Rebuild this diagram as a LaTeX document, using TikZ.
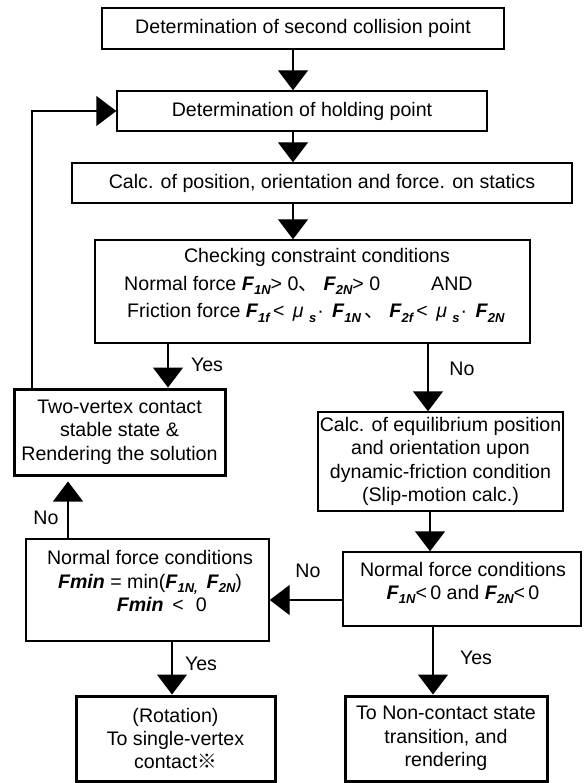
\documentclass[tikz,border=0pt]{standalone}
\usepackage{fontspec}
\setmainfont{Liberation Sans}
\newfontfamily\cjk{Noto Sans CJK JP}
\usetikzlibrary{arrows.meta}
% bold-italic force symbol with a lowered subscript
\newcommand\Fv[1]{\textbf{\textit{F\kern0.3pt\raisebox{-0.4ex}{\fontsize{13}{13}\selectfont #1}}}}
% static friction coefficient followed by a product dot
\newcommand\mus{\hspace{0.15em}\textit{μ}\ \raisebox{-0.4ex}{\fontsize{13}{13}\selectfont\textbf{\textit{s}}}\kern1pt·\hspace{0.15em}}
\newcommand\Fmin{\textbf{\textit{Fmin}}}
\begin{document}
\begin{tikzpicture}[x=1pt,y=-1pt,
  font=\fontsize{19.6}{23.3}\selectfont,
  box/.style={draw, line width=1.4pt, inner sep=0pt, align=center},
  endbox/.style={box, line width=3pt},
  txt/.style={inner sep=0pt, align=center},
  arr/.style={line width=1.4pt, -{Triangle[width=30pt,length=20pt]}}]
\useasboundingbox (0,0) rectangle (585,783);

% process boxes
\node[box, minimum width=402pt, minimum height=41pt] (b1) at (303,28.5)
  {Determination of second collision point};
\node[box, minimum width=370pt, minimum height=40pt] (b2) at (302,111)
  {Determination of holding point};
\node[box, minimum width=500pt, minimum height=40pt] (b3) at (322,183)
  {Calc. of position, orientation and force. on statics};
\node[box, minimum width=435pt, minimum height=103pt] (b4) at (312.5,291.5) {};
\node[txt] (t4a) at (317,257) {Checking constraint conditions};
\node[txt, anchor=west] (t4b) at (124,285)
  {Normal force \Fv{1N}>\ 0{\cjk 、}\ \Fv{2N}>\ 0\hspace{2.6em}AND};
\node[txt, anchor=west] (t4c) at (127,313)
  {Friction force \Fv{1f}\,<\ \mus\ \Fv{1N}\,{\cjk 、}\ \Fv{2f}\,<\ \mus\ \Fv{2N}};
\node[endbox, minimum width=211pt, minimum height=86pt] (b5) at (119.5,432)
  {Two-vertex contact\\stable state \&\\Rendering the solution};
\node[box, minimum width=245pt, minimum height=99pt] (b6) at (440.5,461.5)
  {Calc. of equilibrium position\\and orientation upon\\dynamic-friction condition\\(Slip-motion calc.)};
\node[box, minimum width=238pt, minimum height=74pt] (b7) at (462,589) {};
\node[txt] (t7) at (463,583)
  {Normal force conditions\\\Fv{1N}<\,0 and \Fv{2N}<\,0};
\node[box, minimum width=243pt, minimum height=102pt] (b8) at (147.5,590) {};
\node[txt] (t8) at (150,581)
  {Normal force conditions\\\Fmin{} = min(\Fv{1N,}\, \Fv{2N})\\\hspace*{1.2em}\Fmin{}\, <\,\, 0};
\node[endbox, minimum width=199pt, minimum height=85pt] (b9) at (175.5,738.5)
  {(Rotation)\\To single-vertex\\contact{\cjk ※}};
\node[endbox, minimum width=202pt, minimum height=85pt] (b10) at (446,738.5)
  {To Non-contact state\\transition, and\\rendering};

% connector columns and rows
\coordinate (cx) at (293,0);
\coordinate (lx) at (32,0);
\coordinate (yx) at (168,0);
\coordinate (nx) at (428,0);
\coordinate (ex) at (430,0);
\coordinate (rx) at (433,0);
\coordinate (ux) at (68,0);
\coordinate (dx) at (172,0);
\coordinate (hy) at (0,600);

% connectors
\draw[arr] (b1.south -| cx) -- (b2.north -| cx);
\draw[arr] (b2.south -| cx) -- (b3.north -| cx);
\draw[arr] (b3.south -| cx) -- (b4.north -| cx);
\draw[arr] (b4.south -| yx) -- (b5.north -| yx);
\draw[arr] (b4.south -| nx) -- (b6.north -| nx);
\draw[arr] (b6.south -| ex) -- (b7.north -| ex);
\draw[arr] (b7.west |- hy) -- (b8.east |- hy);
\draw[arr, shorten >=5pt] (b8.north -| ux) -- (b5.south -| ux);
\draw[arr] (b8.south -| dx) -- (b9.north -| dx);
\draw[arr] (b7.south -| rx) -- (b10.north -| rx);
\draw[arr] (b5.north -| lx) |- (b2.west);

% branch labels
\node[txt] (y1) at (207,365) {Yes};
\node[txt] (n1) at (462,369) {No};
\node[txt] (n2) at (308,571) {No};
\node[txt] (n3) at (46,518) {No};
\node[txt] (y2) at (201,664) {Yes};
\node[txt] (y3) at (476,658) {Yes};
\end{tikzpicture}
\end{document}
